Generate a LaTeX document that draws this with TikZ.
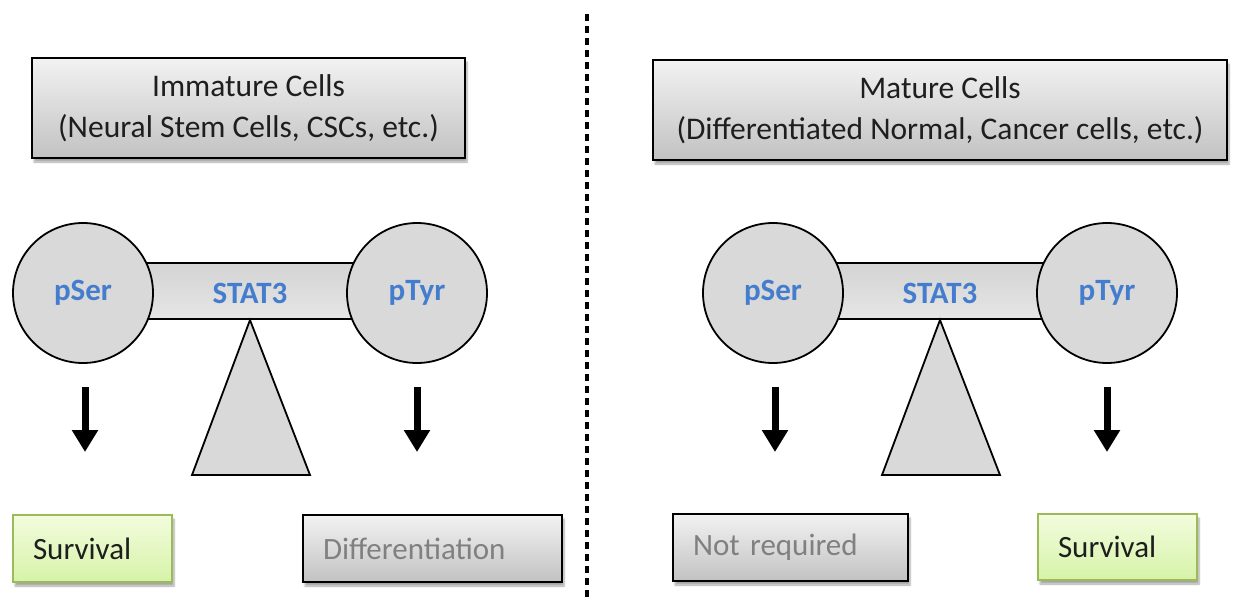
\documentclass[tikz,border=0pt]{standalone}
\usepackage{fontspec}
\setmainfont{Carlito}
\usetikzlibrary{arrows.meta,shadows,shadows.blur}
\definecolor{txtblue}{RGB}{68,125,205}
\definecolor{greenline}{RGB}{155,187,89}
\definecolor{greentop}{RGB}{243,252,222}
\definecolor{greenbot}{RGB}{214,243,168}
\definecolor{graytxt}{RGB}{128,128,128}
\definecolor{darktxt}{RGB}{30,30,30}
\tikzset{
  shadowed/.style={blur shadow={shadow xshift=2pt,shadow yshift=-4pt,shadow blur steps=6,shadow opacity=35}},
  hdrbox/.style={draw=black,line width=2pt,top color=black!5,bottom color=black!24,shadowed,
    align=center,font=\fontsize{31.5}{41}\selectfont,text=darktxt,inner sep=0pt},
  greenbox/.style={draw=greenline,line width=1.6pt,top color=greentop,bottom color=greenbot,shadowed,
    align=left,font=\fontsize{31}{37}\selectfont,text=darktxt,inner xsep=20pt,inner ysep=0pt},
  graybox/.style={draw=black,line width=2.4pt,top color=black!5,bottom color=black!24,shadowed,
    align=left,font=\fontsize{31}{37}\selectfont,text=graytxt,inner xsep=20pt,inner ysep=0pt},
  ball/.style={circle,draw=black,line width=1.8pt,fill=black!15,minimum size=140pt,inner sep=0pt,
    font=\bfseries\fontsize{31}{34}\selectfont,text=txtblue},
  beam/.style={draw=black,line width=1.8pt,top color=black!17,bottom color=black!10,minimum width=300pt,
    minimum height=56pt,inner sep=0pt},
  beamtext/.style={font=\bfseries\fontsize{31}{34}\selectfont,text=txtblue},
  fulcrum/.style={draw=black,line width=1.8pt,fill=black!15,line join=miter},
  bigarrow/.style={draw=black,line width=7pt,-{Triangle[width=25pt,length=22pt]}},
  divider/.style={draw=black,line width=3.2pt,dash pattern=on 7pt off 5pt}
}
\begin{document}
\begin{tikzpicture}[x=1pt,y=-1pt]
\useasboundingbox (0,0) rectangle (1235,597);

% divider
\coordinate (dT) at (587,14);
\coordinate (dB) at (587,597);
\draw[divider] (dT) -- (dB);

% headers
\node[hdrbox,minimum width=433pt,minimum height=100pt] (hL) at (248.5,108) {\raisebox{-3pt}{Immature Cells}\\\raisebox{-3pt}{(Neural Stem Cells, CSCs, etc.)}};
\node[hdrbox,minimum width=574pt,minimum height=100pt] (hR) at (940,110) {\raisebox{-3pt}{Mature Cells}\\\raisebox{-3pt}{(Differentiated Normal, Cancer cells, etc.)}};

% left seesaw
\node[beam] (barL) at (250,291) {};
\coordinate (tLa) at (250,320);
\coordinate (tLb) at (192,475);
\coordinate (tLc) at (310,475);
\draw[fulcrum] (tLa) -- (tLb) -- (tLc) -- cycle;
\node[ball] (serL) at (83,293) {pSer};
\node[ball] (tyrL) at (417,293) {pTyr};
\node[beamtext] (statL) at (250,293) {STAT3};

% right seesaw
\node[beam] (barR) at (940,291) {};
\coordinate (tRa) at (940,320);
\coordinate (tRb) at (882,475);
\coordinate (tRc) at (1000,475);
\draw[fulcrum] (tRa) -- (tRb) -- (tRc) -- cycle;
\node[ball] (serR) at (773,293) {pSer};
\node[ball] (tyrR) at (1107,293) {pTyr};
\node[beamtext] (statR) at (940,293) {STAT3};

% arrows
\coordinate (a1s) at (85,387);  \coordinate (a1e) at (85,452);
\coordinate (a2s) at (417,387); \coordinate (a2e) at (417,452);
\coordinate (a3s) at (775,387); \coordinate (a3e) at (775,452);
\coordinate (a4s) at (1107,387); \coordinate (a4e) at (1107,452);
\draw[bigarrow] (a1s) -- (a1e);
\draw[bigarrow] (a2s) -- (a2e);
\draw[bigarrow] (a3s) -- (a3e);
\draw[bigarrow] (a4s) -- (a4e);

% outcome boxes
\node[greenbox,text width=119pt,minimum height=67pt] (survL) at (92.5,548.5) {Survival};
\node[graybox,text width=219pt,minimum height=67pt] (diffL) at (432.5,548.5) {Differentiation};
\node[graybox,text width=195pt,minimum height=67pt] (notR) at (790.5,547.5) {Not required};
\node[greenbox,text width=119pt,minimum height=66pt] (survR) at (1117.5,547) {Survival};
\end{tikzpicture}
\end{document}
